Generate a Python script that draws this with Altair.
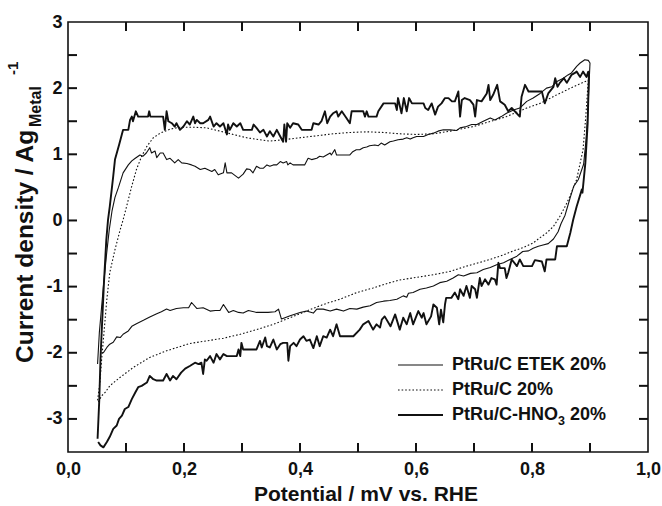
import altair as alt
import pandas as pd

# ---------------- data ----------------
# PtRu/C-HNO3 20% (thick, noisy): anodic sweep then cathodic sweep
hno3_x = [0.051,0.054,0.056,0.058,0.062,0.066,0.069,0.072,0.078,0.081,0.088,0.095,0.104,0.107,0.110,0.112,0.117,0.121,0.138,0.140,0.142,0.164,0.167,0.170,
          0.173,0.179,0.184,0.187,0.193,0.199,0.205,0.210,0.216,0.219,0.222,0.228,0.233,0.242,0.245,0.251,0.256,0.262,0.268,0.274,0.276,0.279,0.285,0.291,0.297,0.302,0.308,0.317,0.320,0.325,0.331,
          0.337,0.343,0.348,0.354,0.360,0.366,0.371,0.373,0.376,0.378,0.383,0.388,0.397,0.403,0.420,0.423,0.432,0.437,0.443,0.447,0.452,0.457,0.463,0.466,0.472,0.480,0.486,0.489,0.509,0.512,0.515,0.518,0.532,0.535,0.544,0.564,0.567,0.569,0.575,0.579,0.584,0.588,0.593,0.613,0.616,0.621,0.627,0.633,0.638,0.644,0.650,
          0.656,0.662,0.667,0.673,0.676,0.679,0.684,0.693,0.699,0.702,0.705,0.713,0.722,0.725,0.728,0.733,0.740,0.745,0.753,0.759,0.765,0.779,0.782,0.788,0.794,0.808,0.817,0.822,0.828,0.837,0.840,0.844,0.848,0.855,0.860,0.868,0.874,0.877,0.883,0.888,0.894,0.897,
          0.898,0.896,0.892,0.887,0.886,0.877,0.871,0.866,0.860,0.843,0.840,0.825,0.822,0.817,0.805,0.800,0.785,0.779,0.774,0.765,0.759,0.756,0.753,0.745,0.742,0.739,0.736,0.730,0.725,0.719,0.713,0.710,0.705,0.702,0.696,0.693,0.687,0.682,0.676,0.673,0.667,0.661,0.652,0.650,0.647,0.643,0.640,0.636,0.630,0.626,0.618,0.613,0.610,0.604,0.595,0.590,0.584,0.578,
          0.572,0.564,0.556,0.546,0.541,0.538,0.532,0.526,0.518,0.509,0.503,0.492,0.469,0.463,0.457,0.452,0.446,0.440,0.434,0.429,0.423,0.417,0.411,0.406,0.400,0.394,0.389,0.383,0.380,0.378,0.371,0.366,0.360,0.354,0.348,0.343,0.340,0.334,0.331,0.325,0.302,0.299,0.297,0.294,0.291,0.274,0.268,0.262,0.256,0.251,0.245,0.239,0.236,0.233,0.230,0.225,0.219,0.210,0.202,0.195,0.187,0.181,0.176,0.170,0.164,0.153,0.147,0.141,0.136,0.127,0.121,0.116,0.110,0.104,0.098,0.093,0.088,0.084,0.078,0.072,0.067,0.061,0.056,0.052]
hno3_y = [-3.30,-2.70,-2.10,-1.70,-0.94,-0.30,0.01,0.21,0.67,0.92,1.14,1.37,1.37,1.52,1.57,1.50,1.65,1.57,1.57,1.65,1.57,1.57,1.37,1.65,
          1.50,1.47,1.42,1.47,1.37,1.42,1.50,1.45,1.57,1.47,1.52,1.47,1.47,1.52,1.57,1.42,1.47,1.42,1.47,1.30,1.45,1.37,1.47,1.42,1.47,1.37,1.37,1.37,1.45,1.40,1.33,
          1.37,1.27,1.35,1.27,1.37,1.27,1.19,1.45,1.19,1.47,1.40,1.47,1.45,1.37,1.37,1.47,1.45,1.50,1.65,1.47,1.57,1.62,1.65,1.57,1.65,1.55,1.47,1.65,1.65,1.57,1.65,1.57,1.57,1.65,1.77,1.77,1.67,1.85,1.62,1.85,1.65,1.85,1.77,1.77,1.70,1.67,1.77,1.60,1.72,1.77,1.85,
          1.85,1.80,1.80,1.95,1.57,1.82,1.85,1.82,1.75,1.57,1.82,1.80,1.92,2.05,1.82,1.90,2.05,1.80,1.75,1.65,1.70,1.57,1.87,2.05,1.95,1.95,1.95,1.77,1.92,2.02,2.15,2.02,2.08,2.15,2.08,2.20,2.23,2.25,2.17,2.25,2.17,2.25,
          2.17,1.47,0.87,0.42,0.47,0.21,0.01,-0.19,-0.39,-0.39,-0.59,-0.59,-0.77,-0.62,-0.60,-0.69,-0.69,-0.59,-0.69,-0.59,-0.79,-0.87,-0.72,-0.72,-0.64,-0.97,-0.89,-0.87,-0.97,-0.89,-0.99,-0.87,-1.17,-1.04,-0.99,-1.17,-0.99,-1.14,-1.04,-1.19,-1.09,-1.17,-1.17,-1.27,-1.54,-1.35,-1.57,-1.32,-1.27,-1.45,-1.57,-1.40,-1.47,-1.37,-1.57,-1.40,-1.57,-1.47,
          -1.65,-1.42,-1.60,-1.45,-1.50,-1.62,-1.57,-1.65,-1.52,-1.57,-1.65,-1.75,-1.75,-1.57,-1.75,-1.65,-1.77,-1.75,-1.90,-1.75,-1.93,-1.80,-1.82,-1.75,-1.80,-1.90,-1.85,-1.90,-2.12,-1.85,-1.85,-1.87,-1.95,-1.80,-1.92,-1.90,-1.77,-1.92,-1.82,-1.95,-1.95,-1.85,-2.05,-1.95,-2.05,-2.05,-2.02,-2.10,-2.02,-2.15,-2.05,-2.12,-2.10,-2.32,-2.15,-2.17,-2.15,-2.20,-2.24,-2.30,-2.40,-2.35,-2.42,-2.32,-2.42,-2.42,-2.40,-2.35,-2.45,-2.50,-2.52,-2.60,-2.70,-2.82,-2.85,-2.95,-3.00,-3.10,-3.15,-3.27,-3.35,-3.43,-3.40,-3.35]

# PtRu/C ETEK 20% (thin)
etek_x = [0.051,0.054,0.058,0.061,0.066,0.071,0.076,0.081,0.087,0.095,0.104,0.110,0.116,0.124,0.129,0.135,0.141,0.144,0.150,0.153,0.159,0.164,0.170,0.176,0.184,0.190,0.196,0.205,0.213,0.219,0.228,0.236,0.248,0.253,0.259,0.268,0.271,0.274,0.282,0.294,0.302,0.308,
          0.314,0.319,0.325,0.331,0.337,0.343,0.348,0.354,0.360,0.366,0.371,0.377,0.379,0.383,0.388,0.408,0.414,0.420,0.429,0.434,0.440,0.446,0.452,0.454,0.460,0.463,0.486,0.491,0.497,0.503,0.509,0.515,0.520,0.529,0.535,0.540,0.546,0.555,0.561,0.569,0.578,0.584,0.590,0.595,0.601,0.613,0.621,0.630,0.638,0.647,0.659,
          0.670,0.676,0.687,0.696,0.705,0.716,0.728,0.736,0.747,0.756,0.768,0.779,0.791,0.802,0.814,0.825,0.834,0.843,0.854,0.862,0.868,0.877,0.883,0.891,0.897,0.900,
          0.898,0.896,0.893,0.889,0.880,0.872,0.866,0.861,0.857,0.850,0.845,0.837,0.828,0.819,0.811,0.802,0.794,0.784,0.774,0.762,0.751,0.739,0.728,0.716,0.705,0.694,0.682,0.673,0.664,0.653,0.641,0.630,0.618,0.607,0.595,0.587,0.584,0.578,0.567,0.555,0.544,0.532,0.521,0.509,0.498,0.486,0.475,0.463,0.452,0.440,0.429,0.423,0.411,0.400,0.383,0.374,0.368,0.365,0.363,0.357,0.345,0.325,0.311,0.302,0.294,0.285,0.277,0.268,0.262,0.254,0.245,0.233,0.222,0.213,0.208,0.199,0.187,0.176,0.170,0.161,0.153,0.141,0.130,0.118,0.110,0.104,0.095,0.090,0.084,0.078,0.072,0.067,0.061,0.058]
etek_y = [-2.17,-1.70,-1.30,-1.00,-0.55,-0.15,0.15,0.35,0.50,0.72,0.84,0.90,0.94,0.99,0.97,1.02,1.10,1.02,1.05,0.95,1.02,1.02,0.92,0.94,0.87,0.92,0.87,0.86,0.84,0.82,0.77,0.79,0.74,0.77,0.69,0.72,0.87,0.72,0.72,0.64,0.70,0.78,
          0.77,0.72,0.82,0.79,0.79,0.84,0.82,0.84,0.84,0.89,0.87,0.89,0.84,0.87,0.84,0.84,0.94,0.92,0.94,0.97,0.96,0.99,1.02,0.99,1.07,0.99,0.99,1.04,1.07,1.07,1.10,1.11,1.13,1.14,1.13,1.17,1.14,1.19,1.20,1.22,1.23,1.25,1.23,1.25,1.27,1.27,1.30,1.32,1.35,1.37,1.37,
          1.36,1.40,1.42,1.45,1.45,1.50,1.55,1.52,1.57,1.62,1.67,1.70,1.80,1.85,1.92,2.00,2.02,2.10,2.15,2.20,2.23,2.33,2.38,2.43,2.42,2.38,
          2.00,1.60,1.20,0.85,0.62,0.52,0.35,0.20,0.08,-0.05,-0.17,-0.28,-0.35,-0.37,-0.39,-0.42,-0.46,-0.47,-0.54,-0.59,-0.64,-0.67,-0.71,-0.74,-0.79,-0.80,-0.84,-0.82,-0.87,-0.92,-0.94,-0.99,-1.02,-1.04,-1.09,-1.10,-1.16,-1.14,-1.19,-1.21,-1.22,-1.24,-1.29,-1.31,-1.34,-1.33,-1.37,-1.34,-1.37,-1.34,-1.34,-1.40,-1.37,-1.39,-1.44,-1.47,-1.49,-1.40,-1.34,-1.38,-1.39,-1.39,-1.36,-1.40,-1.39,-1.36,-1.39,-1.27,-1.36,-1.36,-1.37,-1.32,-1.33,-1.24,-1.32,-1.32,-1.33,-1.36,-1.34,-1.38,-1.41,-1.46,-1.51,-1.56,-1.60,-1.67,-1.72,-1.77,-1.76,-1.84,-1.87,-1.92,-2.00,-2.00]

# PtRu/C 20% (dotted)
ptru_x = [0.051,0.055,0.058,0.061,0.067,0.072,0.081,0.090,0.095,0.101,0.110,0.118,0.127,0.136,0.147,0.159,0.176,0.193,0.216,0.239,0.262,0.285,0.308,0.331,0.348,0.371,0.400,0.429,0.457,0.486,0.515,0.544,0.572,0.601,0.630,0.659,0.699,0.756,0.791,0.814,0.843,0.871,0.897,
          0.893,0.888,0.877,0.868,0.862,0.857,0.848,0.837,0.825,0.814,0.802,0.785,0.768,0.745,0.716,0.687,0.659,0.630,0.601,0.572,0.555,0.526,0.498,0.469,0.440,0.411,0.383,0.354,0.325,0.297,0.268,0.239,0.210,0.170,0.141,0.113,0.090,0.072,0.064,0.058,0.052]
ptru_y = [-2.72,-2.45,-2.10,-1.80,-1.19,-0.79,-0.44,-0.14,0.01,0.21,0.52,0.77,0.97,1.12,1.25,1.32,1.38,1.41,1.41,1.40,1.35,1.30,1.25,1.22,1.20,1.22,1.25,1.28,1.31,1.33,1.34,1.33,1.31,1.30,1.31,1.35,1.42,1.57,1.70,1.77,1.90,2.02,2.12,
          1.60,1.07,0.62,0.42,0.30,0.21,0.06,-0.09,-0.19,-0.26,-0.34,-0.41,-0.46,-0.54,-0.62,-0.69,-0.77,-0.82,-0.86,-0.90,-0.94,-1.02,-1.09,-1.19,-1.27,-1.37,-1.47,-1.57,-1.65,-1.72,-1.78,-1.82,-1.86,-1.97,-2.07,-2.22,-2.37,-2.50,-2.60,-2.65,-2.75]

x_ticks_major = [0.0, 0.2, 0.4, 0.6, 0.8, 1.0]
x_ticks_all = [0.1, 0.2, 0.3, 0.4, 0.5, 0.6, 0.7, 0.8, 0.9]
y_ticks_major = [-3, -2, -1, 0, 1, 2, 3]
y_ticks_all = [-3, -2.5, -2, -1.5, -1, -0.5, 0, 0.5, 1, 1.5, 2, 2.5]

# ---------------- build table ----------------
def frame(name, xs, ys):
    return pd.DataFrame({"series": name, "i": range(len(xs)), "x": xs, "y": ys})

df = pd.concat([frame("PtRu/C ETEK 20%", etek_x, etek_y),
                frame("PtRu/C 20%", ptru_x, ptru_y),
                frame("PtRu/C-HNO3 20%", hno3_x, hno3_y)], ignore_index=True)

W, H = 580, 430
TICK = 9
FONT = "Liberation Sans"
INK = "#111111"
xs = alt.Scale(domain=[0, 1], range=[0, W], nice=False, zero=False)
ys = alt.Scale(domain=[-3.5, 3], range=[H, 0], nice=False, zero=False)

base = alt.Chart(df)

def curve(name, **mk):
    return base.transform_filter(alt.datum.series == name).mark_line(
        color=INK, strokeJoin="round", **mk).encode(
        x=alt.X("x:Q", scale=xs, axis=None),
        y=alt.Y("y:Q", scale=ys, axis=None),
        order=alt.Order("i:Q"))

l_etek = curve("PtRu/C ETEK 20%", strokeWidth=1.1)
l_ptru = curve("PtRu/C 20%", strokeWidth=1.1, strokeDash=[1.6, 2.0])
l_hno3 = curve("PtRu/C-HNO3 20%", strokeWidth=1.9)

lab_common = dict(grid=False, domain=False, ticks=False, tickSize=0, title=None,
                  labelFont=FONT, labelFontSize=18, labelFontWeight="bold", labelColor=INK)

labels = base.mark_point(opacity=0).encode(
    x=alt.X("x:Q", scale=xs, axis=alt.Axis(orient="bottom", values=x_ticks_major, labelPadding=8,
            labelFlush=False, labelOverlap=False,
            labelExpr="replace(format(datum.value, '.1f'), '.', ',')", **lab_common)),
    y=alt.Y("y:Q", scale=ys, axis=alt.Axis(orient="left", values=y_ticks_major, labelPadding=6,
            labelFlush=False, labelOverlap=False, labelExpr="'' + datum.value", **lab_common)))

# inward ticks on all four sides, placed through the scales
tx = pd.DataFrame({"tv": x_ticks_all})
ty = pd.DataFrame({"tv": y_ticks_all})
tk = dict(color=INK, strokeWidth=2)
ticks = [
    alt.Chart(tx).mark_rule(**tk).encode(
        x=alt.X("tv:Q", scale=xs, axis=None), y=alt.value(H - TICK), y2=alt.value(H)),
    alt.Chart(tx).mark_rule(**tk).encode(
        x=alt.X("tv:Q", scale=xs, axis=None), y=alt.value(0), y2=alt.value(TICK)),
    alt.Chart(ty).mark_rule(**tk).encode(
        y=alt.Y("tv:Q", scale=ys, axis=None), x=alt.value(0), x2=alt.value(TICK)),
    alt.Chart(ty).mark_rule(**tk).encode(
        y=alt.Y("tv:Q", scale=ys, axis=None), x=alt.value(W - TICK), x2=alt.value(W)),
]

one = pd.DataFrame({"a": [0]})

def txt(s, px, py, size, angle=0, align="left", baseline="middle"):
    kw = dict(text=s, font=FONT, fontSize=size, fontWeight="bold", color=INK,
              align=align, baseline=baseline)
    if angle:
        kw["angle"] = angle
    return alt.Chart(one).mark_text(**kw).encode(x=alt.value(px), y=alt.value(py))

# axis titles (plot-area pixel coordinates)
x_title = txt("Potential / mV vs. RHE", 298, 473, 21, align="center")
y_title = [
    txt("Current density / Ag", -35, 341, 24.5, angle=270, baseline="alphabetic"),
    txt("Metal", -27, 105, 16, angle=270, baseline="alphabetic"),
    txt("-1", -50, 53, 15, angle=270, baseline="alphabetic"),
]

# legend
def leg_line(py, **mk):
    return alt.Chart(one).mark_rule(color=INK, **mk).encode(
        x=alt.value(330), x2=alt.value(375), y=alt.value(py))

legend = [
    leg_line(343, strokeWidth=1.1),
    leg_line(368, strokeWidth=1.1, strokeDash=[1.6, 2.0]),
    leg_line(393, strokeWidth=1.9),
    txt("PtRu/C ETEK 20%", 384, 343, 18),
    txt("PtRu/C 20%", 384, 368, 18),
    txt("PtRu/C-HNO", 384, 393, 18),
    txt("3", 490, 399, 12.5),
    txt("20%", 502, 393, 18),
]

chart = alt.layer(
    labels, l_ptru, l_etek, l_hno3, *ticks, x_title, *y_title, *legend
).resolve_axis(x="independent", y="independent").properties(
    width=W, height=H,
    autosize=alt.AutoSizeParams(type="none"),
    padding={"left": 68, "top": 22, "right": 14, "bottom": 54},
    background="white",
).configure_view(stroke=INK, strokeWidth=1.6)

chart.save("out.html", embed_options={"renderer": "svg", "actions": False})
